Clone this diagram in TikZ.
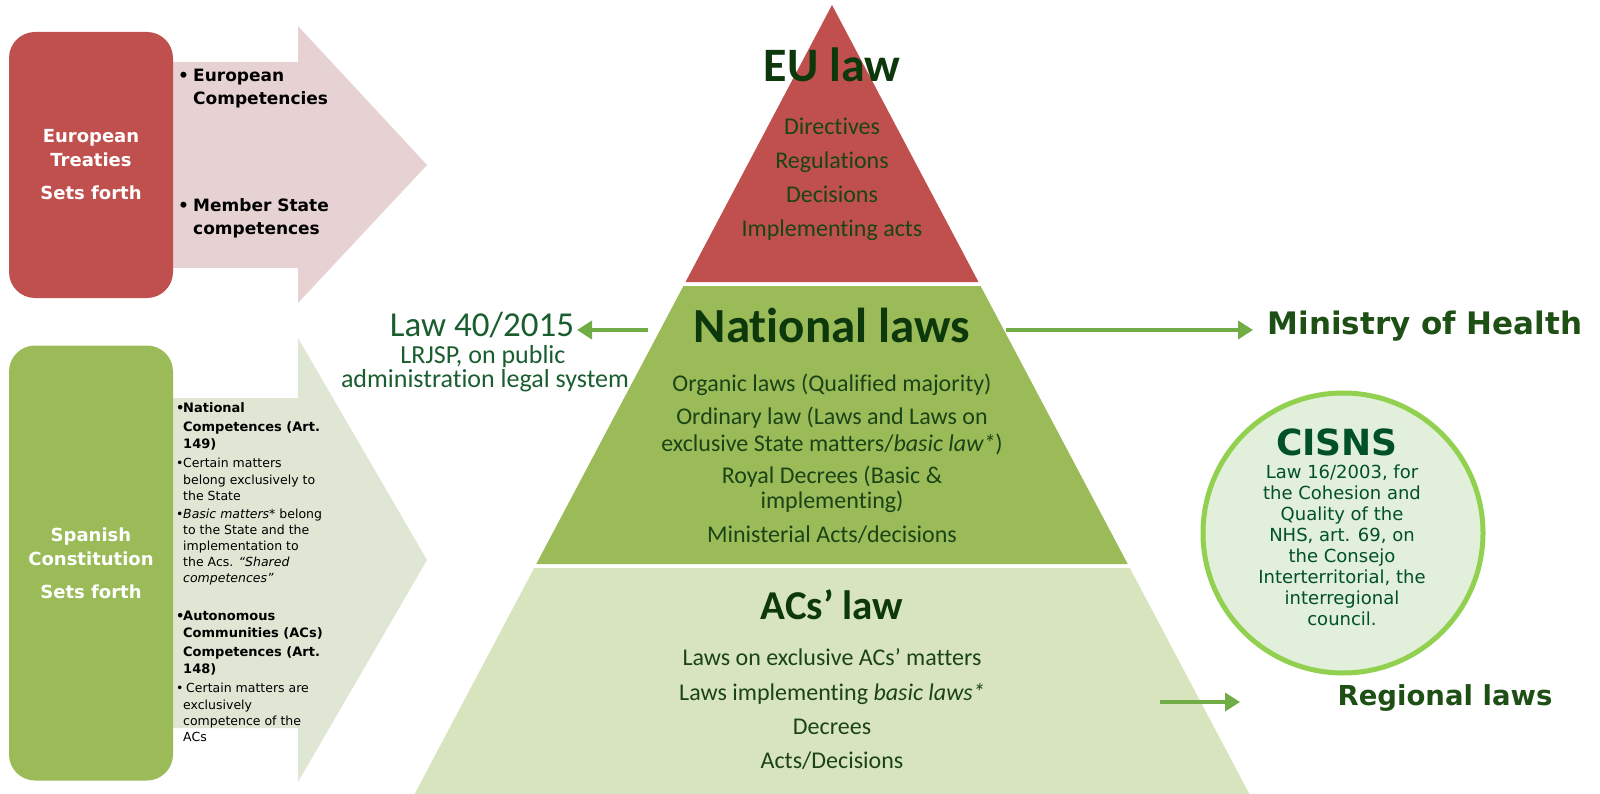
\documentclass[tikz,border=0pt]{standalone}
\usepackage{fontspec}
\setmainfont{DejaVu Sans}
\newfontfamily\calfont[Ligatures=NoCommon]{Carlito}
\newfontfamily\verfont{DejaVu Sans}
\usetikzlibrary{arrows.meta}
\definecolor{eured}{HTML}{C0504D}
\definecolor{pinkarr}{HTML}{E6D2D2}
\definecolor{olive}{HTML}{9BBB59}
\definecolor{palegreen}{HTML}{D8E4BD}
\definecolor{palearr}{HTML}{DFE6D4}
\definecolor{txtdark}{HTML}{0C380C}
\definecolor{txtitem}{HTML}{1A4416}
\definecolor{lawgreen}{HTML}{1A5E30}
\definecolor{ministry}{HTML}{1E5016}
\definecolor{cisnsc}{HTML}{005028}
\definecolor{arrowgreen}{HTML}{70AD47}
\definecolor{circfill}{HTML}{E2EFDA}
\definecolor{circline}{HTML}{92D050}
\tikzset{
 lbox/.style={rounded corners=26pt, minimum width=164pt, inner sep=0pt, text=white, align=center, font=\verfont\bfseries\fontsize{18}{24}\selectfont},
 pyr/.style={text=txtitem, font=\calfont\fontsize{24}{28}\selectfont, anchor=mid, inner sep=0pt},
 pyrtitle/.style={text=txtdark, font=\calfont\bfseries\fontsize{49}{52}\selectfont, anchor=base, inner sep=0pt},
 bl/.style={anchor=mid west, inner sep=0pt, font=\verfont\fontsize{12.5}{14}\selectfont, text=black},
 blb/.style={anchor=mid west, inner sep=0pt, font=\verfont\bfseries\fontsize{13}{15}\selectfont, text=black},
 topb/.style={anchor=mid west, inner sep=0pt, font=\verfont\bfseries\fontsize{17}{20}\selectfont, text=black},
 garrow/.style={draw=arrowgreen, line width=4pt, -{Triangle[length=15pt,width=18pt]}},
 lawtxt/.style={text=lawgreen, inner sep=0pt, font=\calfont\fontsize{26}{30}\selectfont, anchor=mid},
 sidetitle/.style={text=ministry, inner sep=0pt, anchor=base, font=\verfont\bfseries\fontsize{31}{34}\selectfont},
}
\begin{document}
\begin{tikzpicture}[x=1pt,y=-1pt]
\useasboundingbox (0,0) rectangle (1600,794);

% ---- left arrows
\fill[pinkarr] (150,62) -- (298,62) -- (298,26) -- (427,165) -- (298,303) -- (298,268) -- (150,268) -- cycle;
\fill[palearr] (150,398) -- (298,398) -- (298,338) -- (427,560) -- (298,782) -- (298,728) -- (150,728) -- cycle;

% ---- left boxes
\node[lbox, fill=eured, minimum height=266pt] (eubox) at (91,165) {European\\Treaties\\[9pt]Sets forth};
\node[lbox, fill=olive, minimum height=435pt] (esbox) at (91,563) {Spanish\\Constitution\\[9pt]Sets forth};

% ---- top arrow bullets
\node[topb] (tb1) at (178,79) {\textbullet};
\node[topb] (tt1) at (193,79) {European};
\node[topb] (tt2) at (193,102) {Competencies};
\node[topb] (tb2) at (178,209) {\textbullet};
\node[topb] (tt3) at (193,209) {Member State};
\node[topb] (tt4) at (193,232) {competences};

% ---- bottom arrow bullets
\node[blb] (bb1) at (176,410) {\textbullet};
\node[blb] (s1) at (183,410) {National};
\node[blb] (s2) at (183,429) {Competences (Art.};
\node[blb] (s3) at (183,446) {149)};
\node[bl] (bb2) at (176,465) {\textbullet};
\node[bl] (s4) at (183,465) {Certain matters};
\node[bl] (s5) at (183,482) {belong exclusively to};
\node[bl] (s6) at (183,498) {the State};
\node[bl] (bb3) at (176,516) {\textbullet};
\node[bl] (s7) at (183,516) {\textit{Basic matters*} belong};
\node[bl] (s8) at (183,532) {to the State and the};
\node[bl] (s9) at (183,548) {implementation to};
\node[bl] (s10) at (183,564) {the Acs. \textit{“Shared}};
\node[bl] (s11) at (183,580) {\textit{competences”}};
\node[blb] (bb4) at (176,618) {\textbullet};
\node[blb] (s12) at (183,618) {Autonomous};
\node[blb] (s13) at (183,635) {Communities (ACs)};
\node[blb] (s14) at (183,654) {Competences (Art.};
\node[blb] (s15) at (183,671) {148)};
\node[bl] (bb5) at (176,690) {\textbullet};
\node[bl] (s16) at (186,690) {Certain matters are};
\node[bl] (s17) at (183,707) {exclusively};
\node[bl] (s18) at (183,723) {competence of the};
\node[bl] (s19) at (183,739) {ACs};

% ---- pyramid
\fill[eured] (832,5) -- (978.5,282) -- (685.5,282) -- cycle;
\fill[olive] (683.4,286) -- (980.6,286) -- (1127.7,564) -- (536.3,564) -- cycle;
\fill[palegreen] (534.2,568) -- (1129.8,568) -- (1249.4,794) -- (414.6,794) -- cycle;

\node[pyrtitle, font=\calfont\bfseries\fontsize{48}{50}\selectfont] (eut) at (832,82) {EU law};
\node[pyr] (e1) at (832,132) {Directives};
\node[pyr] (e2) at (832,166) {Regulations};
\node[pyr] (e3) at (832,200) {Decisions};
\node[pyr] (e4) at (832,234) {Implementing acts};

\node[pyrtitle] (nat) at (832,342) {National laws};
\node[pyr] (n1) at (832,389) {Organic laws (Qualified majority)};
\node[pyr] (n2) at (832,422) {Ordinary law (Laws and Laws on};
\node[pyr] (n3) at (832,449) {exclusive State matters/\textit{basic law*})};
\node[pyr] (n4) at (832,481) {Royal Decrees (Basic \&};
\node[pyr] (n5) at (832,506) {implementing)};
\node[pyr] (n6) at (832,540) {Ministerial Acts/decisions};

\node[pyrtitle, font=\calfont\bfseries\fontsize{41}{44}\selectfont] (act) at (832,619) {ACs’ law};
\node[pyr] (a1) at (832,663) {Laws on exclusive ACs’ matters};
\node[pyr] (a2) at (832,698) {Laws implementing \textit{basic laws*}};
\node[pyr] (a3) at (832,732) {Decrees};
\node[pyr] (a4) at (832,766) {Acts/Decisions};

% ---- Law 40/2015
\node[text=lawgreen, inner sep=0pt, anchor=base, font=\calfont\fontsize{35}{40}\selectfont] (law40) at (482,336) {Law 40/2015};
\node[lawtxt] (lrj) at (483,361) {LRJSP, on public};
\node[lawtxt] (adm) at (485,385) {administration legal system};
\coordinate (la) at (648,330);
\coordinate (lb) at (577,330);
\draw[garrow] (la) -- (lb);

% ---- Ministry of Health
\node[sidetitle] (moh) at (1425,334) {Ministry of Health};
\coordinate (ma) at (1006,330);
\coordinate (mb) at (1253,330);
\draw[garrow] (ma) -- (mb);

% ---- CISNS
\node[circle, draw=circline, line width=5pt, fill=circfill, minimum size=280pt, inner sep=0pt] (circ) at (1343,533) {};
\node[text=cisnsc, inner sep=0pt, anchor=base, font=\verfont\bfseries\fontsize{36}{40}\selectfont] (cist) at (1337,455) {CISNS};
\node[text=cisnsc, inner sep=0pt, anchor=north, align=center, font=\verfont\fontsize{18}{21}\selectfont] (cisb) at (1342,465) {Law 16/2003, for\\the Cohesion and\\Quality of the\\NHS, art. 69, on\\the Consejo\\Interterritorial, the\\interregional\\council.};

% ---- Regional laws
\node[sidetitle, font=\verfont\bfseries\fontsize{27.5}{30}\selectfont] (reg) at (1445,705) {Regional laws};
\coordinate (ra) at (1160,702);
\coordinate (rb) at (1240,702);
\draw[garrow] (ra) -- (rb);
\end{tikzpicture}
\end{document}
